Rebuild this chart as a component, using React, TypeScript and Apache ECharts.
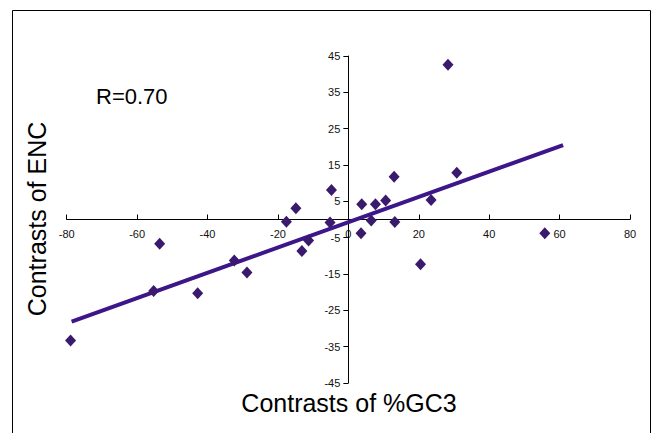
import React, { useEffect, useRef } from "react";
import * as echarts from "echarts";

const xTicks = { min: -80, max: 80, interval: 20 };
const yRange = { min: -45, max: 45 };
const yTickValues = [-45, -35, -25, -15, -5, 5, 15, 25, 35, 45];

const pointsX = [-78.9, -53.6, -55.3, -42.8, -32.4, -28.8, -17.6, -14.9, -13.2, -11.3, -4.8, -5.2, 3.8, 3.6, 6.5, 7.7, 10.6, 13.0, 13.2, 20.5, 23.5, 28.3, 30.8, 55.8];
const pointsY = [-33.3, -6.7, -19.7, -20.3, -11.3, -14.6, -0.6, 3.1, -8.7, -5.8, 8.1, -0.8, 4.2, -3.8, -0.3, 4.2, 5.2, 11.8, -0.7, -12.3, 5.4, 42.6, 12.9, -3.8];

const fitX = [-78.6, 61.0];
const fitY = [-28.1, 20.5];

const xTitle = "Contrasts of %GC3";
const yTitle = "Contrasts of ENC";
const rLabel = "R=0.70";

const W = 655;
const H = 433;
const G = { left: 66.7, right: 25, top: 56, bottom: 50 };

export default function App() {
  const ref = useRef<HTMLDivElement>(null);
  useEffect(() => {
    if (!ref.current) return;
    const chart = echarts.init(ref.current, null, { renderer: "svg" });
    const font = "'Liberation Sans', Arial, Helvetica, sans-serif";
    const gw = W - G.left - G.right;
    const gh = H - G.top - G.bottom;
    // distance from the grid's bottom edge up to y = 0, and from its left edge to x = 0
    const xAxisOffset = -gh * ((0 - yRange.min) / (yRange.max - yRange.min));
    const yAxisOffset = -gw * ((0 - xTicks.min) / (xTicks.max - xTicks.min));
    chart.setOption({
      animation: false,
      backgroundColor: "#ffffff",
      grid: { ...G, containLabel: false },
      xAxis: {
        type: "value",
        min: xTicks.min,
        max: xTicks.max,
        interval: xTicks.interval,
        position: "bottom",
        offset: xAxisOffset,
        axisLine: { onZero: false, lineStyle: { color: "#000", width: 1 } },
        axisTick: { inside: true, length: 5, lineStyle: { color: "#000" } },
        axisLabel: { fontSize: 11, color: "#111", fontFamily: font, margin: 9 },
        splitLine: { show: false },
      },
      yAxis: {
        type: "value",
        min: yRange.min,
        max: yRange.max,
        position: "left",
        offset: yAxisOffset,
        axisLine: { show: true, onZero: false, lineStyle: { color: "#000", width: 1 } },
        axisTick: { show: true, inside: false, length: 5, customValues: yTickValues, lineStyle: { color: "#000" } },
        axisLabel: {
          fontSize: 11,
          color: "#111",
          fontFamily: font,
          margin: 8,
          customValues: yTickValues,
        },
        splitLine: { show: false },
      },
      series: [
        {
          type: "line",
          data: fitX.map((x, i) => [x, fitY[i]]),
          symbol: "none",
          lineStyle: { color: "#3d1689", width: 4 },
          z: 2,
        },
        {
          type: "scatter",
          data: pointsX.map((x, i) => [x, pointsY[i]]),
          symbol: "diamond",
          symbolSize: [11, 12],
          itemStyle: { color: "#3a1a6c", opacity: 1 },
          z: 3,
        },
      ],
      graphic: [
        {
          type: "rect",
          shape: { x: 12.5, y: 10.5, width: 638, height: 440 },
          style: { fill: "none", stroke: "#000", lineWidth: 1 },
          silent: true,
        },
        {
          type: "text",
          x: 349,
          y: 403,
          style: { text: xTitle, font: `25px ${font}`, fill: "#000", textAlign: "center", textVerticalAlign: "middle" },
        },
        {
          type: "text",
          x: 37,
          y: 219,
          rotation: Math.PI / 2,
          style: { text: yTitle, font: `25px ${font}`, fill: "#000", textAlign: "center", textVerticalAlign: "middle" },
        },
        {
          type: "text",
          x: 96,
          y: 96,
          style: { text: rLabel, font: `22px ${font}`, fill: "#000", textAlign: "left", textVerticalAlign: "middle" },
        },
      ],
    });
    return () => chart.dispose();
  }, []);
  return <div ref={ref} style={{ position: "fixed", left: 0, top: 0, width: W, height: H }} />;
}
